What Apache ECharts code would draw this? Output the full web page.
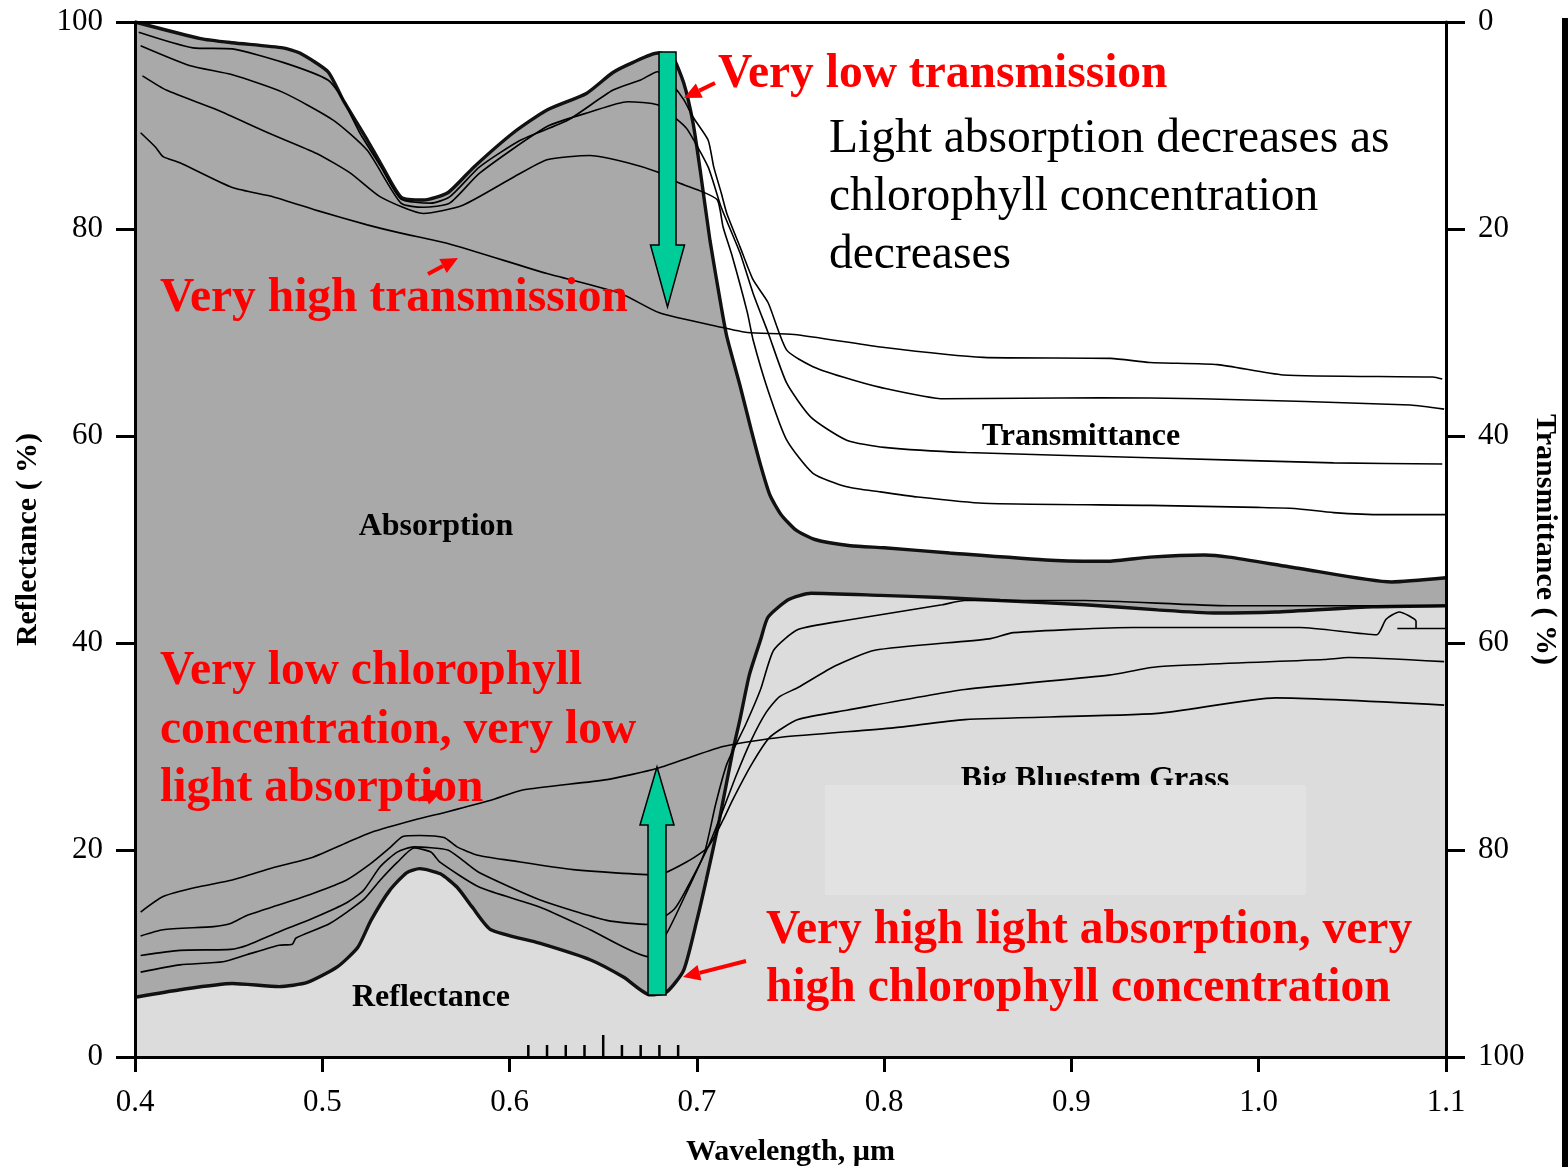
<!DOCTYPE html>
<html>
<head>
<meta charset="utf-8">
<title>Big Bluestem Grass – leaf reflectance and transmittance</title>
<script src="https://cdn.jsdelivr.net/npm/echarts@6/dist/echarts.min.js"></script>
<style>
  html, body { margin: 0; padding: 0; background: #ffffff; overflow: hidden; }
  #chart { position: absolute; left: 0; top: 0; width: 1568px; height: 1167px; }
</style>
</head>
<body>
<div id="chart"></div>
<script>
// Leaf spectra of big bluestem grass at several chlorophyll levels.
// Every curve is a list of [wavelength (µm), percent] pairs.
// Transmittance curves use the right axis, which runs downward from 0 at the top.

// ---- transmittance (right axis) ----
const transHighChl = [[0.400,0],[0.435,1.6],[0.452,2.0],[0.479,2.5],[0.488,3.0],[0.503,4.8],[0.511,7.5],[0.524,11.4],[0.531,13.6],[0.542,16.9],[0.554,17.2],[0.567,16.5],[0.581,14.0],[0.602,10.7],[0.620,8.5],[0.641,6.9],[0.655,4.9],[0.666,3.9],[0.679,3.0],[0.687,3.4],[0.693,5.9],[0.698,9.8],[0.702,14.6],[0.707,21.1],[0.713,27.5],[0.716,30.4],[0.723,35.1],[0.729,39.4],[0.734,42.8],[0.739,45.7],[0.745,47.6],[0.753,49.1],[0.763,50.0],[0.782,50.6],[0.800,50.8],[0.835,51.3],[0.889,52.0],[0.920,52.1],[0.942,51.7],[0.971,51.5],[0.984,51.7],[1.022,52.8],[1.071,54.1],[1.100,53.7]];
const transB = [[0.402,1.0],[0.431,2.5],[0.452,2.6],[0.479,3.9],[0.503,5.6],[0.511,7.5],[0.520,10.7],[0.531,13.9],[0.542,17.1],[0.558,17.5],[0.568,16.9],[0.584,14.0],[0.606,11.4],[0.631,9.5],[0.655,6.6],[0.670,5.6],[0.679,4.8],[0.687,6.1],[0.693,7.5],[0.698,9.2],[0.706,11.4],[0.709,14.0],[0.713,16.5],[0.716,18.5],[0.723,21.7],[0.730,24.9],[0.738,27.1],[0.748,31.7],[0.762,33.3],[0.778,34.3],[0.798,35.3],[0.832,36.4],[0.915,36.3],[0.969,36.4],[1.081,37.0],[1.099,37.4]];
const transC = [[0.403,2.3],[0.429,4.2],[0.452,5.1],[0.479,6.8],[0.506,9.5],[0.524,12.4],[0.542,17.5],[0.554,17.9],[0.568,17.5],[0.584,14.6],[0.620,10.1],[0.643,8.7],[0.663,7.7],[0.679,8.0],[0.690,9.5],[0.695,10.4],[0.706,14.0],[0.713,17.9],[0.723,22.3],[0.730,26.2],[0.738,30.0],[0.748,34.9],[0.761,38.2],[0.780,40.4],[0.800,41.1],[0.844,41.6],[0.942,42.1],[1.040,42.6],[1.098,42.7]];
const transD = [[0.404,5.2],[0.417,6.6],[0.444,8.5],[0.471,10.7],[0.497,12.7],[0.515,14.6],[0.531,16.9],[0.554,18.5],[0.575,17.7],[0.602,15.0],[0.620,13.3],[0.643,12.9],[0.663,13.6],[0.679,14.5],[0.690,15.5],[0.703,16.4],[0.711,17.2],[0.714,19.8],[0.719,22.7],[0.727,28.1],[0.730,30.7],[0.738,35.6],[0.748,40.4],[0.762,43.6],[0.780,44.9],[0.798,45.4],[0.818,45.9],[0.853,46.5],[0.942,46.7],[0.999,46.9],[1.019,47.0],[1.040,47.4],[1.067,47.6],[1.105,47.6]];
const transLowChl = [[0.403,10.7],[0.411,12.1],[0.415,13.0],[0.424,13.6],[0.452,16.0],[0.474,16.9],[0.497,18.2],[0.524,19.6],[0.542,20.4],[0.567,21.4],[0.620,24.3],[0.659,26.2],[0.680,28.1],[0.713,29.5],[0.727,30.0],[0.752,30.2],[0.798,31.4],[0.853,32.4],[0.921,32.5],[0.942,32.9],[0.978,33.1],[1.013,34.1],[1.093,34.3],[1.098,34.5]];

// ---- reflectance (left axis) ----
const reflHighChl = [[0.401,5.8],[0.424,6.5],[0.452,7.1],[0.477,6.8],[0.492,7.2],[0.508,8.7],[0.519,10.6],[0.526,13.2],[0.536,16.1],[0.545,17.8],[0.552,18.2],[0.563,17.7],[0.572,16.4],[0.580,14.5],[0.590,12.3],[0.616,11.0],[0.643,9.4],[0.661,7.7],[0.675,6.0],[0.684,6.3],[0.693,8.4],[0.700,13.2],[0.705,17.1],[0.712,22.9],[0.719,29.4],[0.723,32.6],[0.728,36.9],[0.734,40.3],[0.738,42.5],[0.749,44.2],[0.761,44.8],[0.798,44.6],[0.830,44.4],[0.862,44.1],[0.907,43.7],[0.946,43.2],[0.976,42.9],[1.009,43.0],[1.061,43.5],[1.100,43.6]];
const reflD = [[0.403,8.2],[0.424,8.9],[0.447,9.2],[0.460,9.9],[0.477,10.8],[0.484,10.9],[0.486,11.5],[0.504,12.9],[0.522,15.2],[0.531,17.1],[0.540,18.8],[0.549,20.2],[0.558,19.8],[0.563,18.8],[0.584,16.4],[0.616,14.5],[0.643,12.3],[0.674,9.7],[0.684,12.0],[0.695,16.1],[0.704,19.7],[0.710,24.4],[0.716,28.3],[0.726,32.1],[0.734,35.5],[0.741,39.3],[0.754,41.3],[0.780,42.2],[0.831,43.7],[0.843,44.1],[0.907,44.1],[0.984,43.6],[1.100,43.6]];
const reflC = [[0.403,9.8],[0.424,10.3],[0.451,10.4],[0.460,10.8],[0.477,12.1],[0.495,13.4],[0.513,14.9],[0.522,16.1],[0.531,18.4],[0.540,19.8],[0.549,20.3],[0.567,20.0],[0.575,19.0],[0.584,17.8],[0.616,15.2],[0.652,13.2],[0.674,12.8],[0.688,14.3],[0.697,17.1],[0.706,20.3],[0.713,23.4],[0.721,27.2],[0.729,30.6],[0.737,33.3],[0.744,34.8],[0.754,35.7],[0.774,37.8],[0.795,39.3],[0.856,40.4],[0.869,41.0],[0.933,41.5],[1.022,41.5],[1.063,40.8],[1.068,42.3],[1.075,43.0],[1.084,42.1],[1.084,41.4],[1.074,41.4],[1.108,41.4]];
const reflB = [[0.403,11.7],[0.415,12.3],[0.442,12.6],[0.451,12.9],[0.460,13.7],[0.477,14.7],[0.495,15.8],[0.513,17.1],[0.526,18.7],[0.536,20.2],[0.543,21.3],[0.552,21.4],[0.565,21.2],[0.572,20.3],[0.583,19.5],[0.600,19.0],[0.634,18.1],[0.679,17.6],[0.696,19.0],[0.706,20.3],[0.714,22.9],[0.719,24.8],[0.729,28.2],[0.739,30.9],[0.754,32.6],[0.780,33.5],[0.843,35.5],[0.920,36.9],[0.946,37.7],[1.035,38.4],[1.048,38.6],[1.099,38.2]];
const reflLowChl = [[0.403,14.0],[0.415,15.5],[0.433,16.4],[0.452,17.1],[0.474,18.3],[0.495,19.3],[0.513,20.7],[0.526,21.7],[0.549,22.9],[0.567,23.7],[0.590,24.8],[0.607,25.8],[0.652,26.8],[0.679,27.9],[0.714,30.0],[0.745,30.9],[0.805,31.8],[0.843,32.6],[0.946,33.2],[1.009,34.7],[1.099,34.0]];

// Spectrometer band marks along the wavelength axis (µm)
const bandTicks = [0.61, 0.62, 0.63, 0.64, 0.65, 0.66, 0.67, 0.68, 0.69];
const bandCentre = 0.65;

const SERIF = '"Liberation Serif", "Times New Roman", Times, serif';
const RED = '#ff0000';
const GREEN = '#00cc99';
const DARK_FILL = '#a9a9a9';
const LIGHT_FILL = '#dcdcdc';

function thinLine(name, data, yAxisIndex, clip) {
  return {
    name, type: 'line', data, yAxisIndex,
    showSymbol: false, symbol: 'none', smooth: 0.2, clip: clip !== false,
    lineStyle: { color: '#000', width: 1.6 },
    silent: true, z: 4
  };
}

function text(str, x, y, font, fill, align) {
  return {
    type: 'text', x, y, z: 100, silent: true,
    style: {
      text: str, font, fill,
      textAlign: align || 'left', align: align || 'left',
      textVerticalAlign: 'middle', verticalAlign: 'middle'
    }
  };
}

function redArrow(x1, y1, x2, y2) {
  const a = Math.atan2(y2 - y1, x2 - x1);
  const hl = 17, hw = 8;
  const bx = x2 - hl * Math.cos(a), by = y2 - hl * Math.sin(a);
  const px = -Math.sin(a) * hw, py = Math.cos(a) * hw;
  return [
    { type: 'line', z: 100, silent: true, shape: { x1, y1, x2: bx, y2: by },
      style: { stroke: RED, lineWidth: 4 } },
    { type: 'polygon', z: 100, silent: true,
      shape: { points: [[x2, y2], [bx + px, by + py], [bx - px, by - py]] },
      style: { fill: RED } }
  ];
}

// Block arrows: shaft from (cx, yStart) to the head, head ending at yTip.
function blockArrow(cx, yStart, yHead, yTip, shaftHalf, headHalf) {
  return {
    type: 'polygon', z: 100, silent: true,
    shape: { points: [
      [cx - shaftHalf, yStart], [cx + shaftHalf, yStart],
      [cx + shaftHalf, yHead], [cx + headHalf, yHead],
      [cx, yTip],
      [cx - headHalf, yHead], [cx - shaftHalf, yHead]
    ] },
    style: { fill: GREEN, stroke: '#000', lineWidth: 1.5 }
  };
}

const chart = echarts.init(document.getElementById('chart'), null, { renderer: 'canvas' });

const axisLineStyle = { color: '#000', width: 3 };
const NOTE_BOLD = 'bold 47.5px ' + SERIF;
const NOTE = '47.5px ' + SERIF;
const LABEL_BOLD = 'bold 32px ' + SERIF;

const option = {
  animation: false,
  backgroundColor: '#ffffff',
  grid: { left: 135, right: 122, top: 22, bottom: 110, containLabel: false, outerBoundsMode: 'none' },
  xAxis: [
    {
      type: 'value', min: 0.4, max: 1.1, interval: 0.1, position: 'bottom', z: 10,
      name: 'Wavelength, µm', nameLocation: 'middle', nameGap: 80, nameMoveOverlap: false,
      nameTextStyle: { fontFamily: SERIF, fontWeight: 'bold', fontSize: 30, color: '#000' },
      axisLine: { show: true, onZero: false, lineStyle: axisLineStyle },
      axisTick: { show: true, inside: false, length: 15, lineStyle: { color: '#000', width: 3 } },
      axisLabel: { margin: 30, fontFamily: SERIF, fontSize: 31, color: '#000',
                   formatter: v => v.toFixed(1) },
      splitLine: { show: false }
    },
    {
      type: 'value', min: 0.4, max: 1.1, position: 'top', z: 10,
      axisLine: { show: true, onZero: false, lineStyle: axisLineStyle },
      axisTick: { show: false }, axisLabel: { show: false }, splitLine: { show: false }
    }
  ],
  yAxis: [
    {
      type: 'value', min: 0, max: 100, interval: 20, position: 'left', z: 10,
      name: 'Reflectance ( %)', nameLocation: 'middle', nameRotate: 90, nameGap: 92,
      nameMoveOverlap: false,
      nameTextStyle: { fontFamily: SERIF, fontWeight: 'bold', fontSize: 30, color: '#000' },
      axisLine: { show: true, onZero: false, lineStyle: axisLineStyle },
      axisTick: { show: true, length: 19, lineStyle: { color: '#000', width: 3 } },
      axisLabel: { margin: 32, fontFamily: SERIF, fontSize: 31, color: '#000' },
      splitLine: { show: false }
    },
    {
      type: 'value', min: 0, max: 100, interval: 20, position: 'right', inverse: true, z: 10,
      name: 'Transmittance ( %)', nameLocation: 'middle', nameRotate: -90, nameGap: 84,
      nameMoveOverlap: false,
      nameTextStyle: { fontFamily: SERIF, fontWeight: 'bold', fontSize: 30, color: '#000' },
      axisLine: { show: true, onZero: false, lineStyle: axisLineStyle },
      axisTick: { show: true, length: 19, lineStyle: { color: '#000', width: 3 } },
      axisLabel: { margin: 32, fontFamily: SERIF, fontSize: 31, color: '#000' },
      splitLine: { show: false }
    }
  ],
  series: [
    // Absorbed band: everything below the lowest-transmittance curve
    {
      name: 'Transmittance, highest chlorophyll', type: 'line', yAxisIndex: 1,
      data: transHighChl, showSymbol: false, symbol: 'none', smooth: 0.2, silent: true,
      lineStyle: { color: '#111', width: 3.4 },
      areaStyle: { color: DARK_FILL, opacity: 1, origin: 'end' }, z: 2
    },
    // Reflected band: everything below the lowest-reflectance curve
    {
      name: 'Reflectance, highest chlorophyll', type: 'line', yAxisIndex: 0,
      data: reflHighChl, showSymbol: false, symbol: 'none', smooth: 0.2, silent: true,
      lineStyle: { color: '#111', width: 3.4 },
      areaStyle: { color: LIGHT_FILL, opacity: 1, origin: 'start' }, z: 3
    },
    thinLine('Transmittance B', transB, 1),
    thinLine('Transmittance C', transC, 1),
    thinLine('Transmittance D', transD, 1, false),
    thinLine('Transmittance, lowest chlorophyll', transLowChl, 1),
    thinLine('Reflectance D', reflD, 0),
    thinLine('Reflectance C', reflC, 0, false),
    thinLine('Reflectance B', reflB, 0),
    thinLine('Reflectance, lowest chlorophyll', reflLowChl, 0),
    {
      name: 'Band marks', type: 'custom', xAxisIndex: 0, yAxisIndex: 0, silent: true, z: 6,
      data: bandTicks.map(v => [v, 0]),
      renderItem: function (params, api) {
        const x = api.value(0);
        const base = api.coord([x, 0]);
        const len = Math.abs(x - bandCentre) < 1e-6 ? 22 : 12;
        return {
          type: 'line',
          shape: { x1: base[0], y1: base[1], x2: base[0], y2: base[1] - len },
          style: { stroke: '#000', lineWidth: 2.5 }
        };
      }
    }
  ],
  graphic: [
    // frame strip at the right edge
    { type: 'rect', z: 100, silent: true, shape: { x: 1562, y: 18, width: 6, height: 1149 },
      style: { fill: '#000' } },

    // region labels
    text('Absorption', 436, 527, LABEL_BOLD, '#000', 'center'),
    text('Transmittance', 1081, 437, LABEL_BOLD, '#000', 'center'),
    text('Reflectance', 431, 998, LABEL_BOLD, '#000', 'center'),
    text('Big Bluestem Grass', 1095, 780, LABEL_BOLD, '#000', 'center'),
    { type: 'rect', z: 101, silent: true, shape: { x: 825, y: 785, width: 481, height: 110 },
      style: { fill: '#e2e2e2' } },

    // explanatory notes
    text('Very low transmission', 718, 75, NOTE_BOLD, RED),
    text('Light absorption decreases as', 829, 140, NOTE, '#000'),
    text('chlorophyll concentration', 829, 198, NOTE, '#000'),
    text('decreases', 829, 256, NOTE, '#000'),
    text('Very high transmission', 160, 299, NOTE_BOLD, RED),
    text('Very low chlorophyll', 160, 672, NOTE_BOLD, RED),
    text('concentration, very low', 160, 731, NOTE_BOLD, RED),
    text('light absorption', 160, 789, NOTE_BOLD, RED),
    text('Very high light absorption, very', 766, 931, NOTE_BOLD, RED),
    text('high chlorophyll concentration', 766, 989, NOTE_BOLD, RED),

    ...redArrow(715, 83, 684, 98),
    ...redArrow(428, 274, 458, 258),
    ...redArrow(746, 961, 683, 977),
    ...redArrow(418, 800, 442, 791),

    blockArrow(667.5, 52, 245, 307, 8.5, 17),
    blockArrow(657, 995, 825, 767, 9, 17)
  ]
};

chart.setOption(option);
</script>
</body>
</html>
